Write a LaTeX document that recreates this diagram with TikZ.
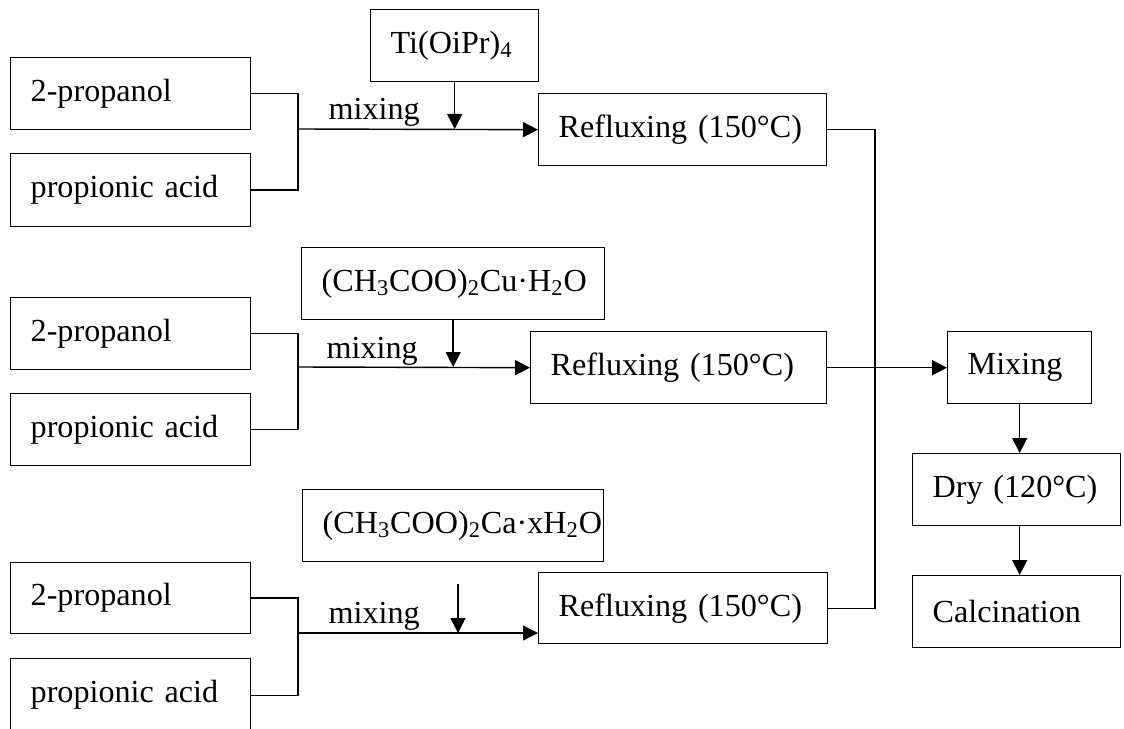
\documentclass[tikz,border=0pt]{standalone}
\usepackage{fontspec}
\setmainfont{Liberation Serif}
\usetikzlibrary{arrows.meta,positioning}

\begin{document}
\begin{tikzpicture}[x=0.02cm,y=-0.02cm,line width=0.8pt,
  font=\fontsize{18.3}{22}\selectfont,
  b/.style={draw,anchor=north west,minimum height=1.44cm,inner xsep=0.4cm,
            inner ysep=0pt,align=left},
  ar/.style={-{Triangle[length=0.3cm,width=0.3cm]}}]
\useasboundingbox (0,0) rectangle (1124,729);

\node[b,text width=4cm]    (pr1) at (10,57)   {2-propanol};
\node[b,text width=4cm,minimum height=1.46cm] (pa1) at (10,153) {propionic acid};
\node[b,text width=2.56cm] (ti)  at (370,9)   {Ti(OiPr)\textsubscript{4}};
\node[b,text width=4.96cm] (rf1) at (538,93)  {Refluxing (150°C)};

\node[b,text width=4cm]    (pr2) at (10,297)  {2-propanol};
\node[b,text width=4cm]    (pa2) at (10,393)  {propionic acid};
\node[b,text width=5.26cm] (cu)  at (301,247) {(CH\textsubscript{3}COO)\textsubscript{2}Cu·H\textsubscript{2}O};
\node[b,text width=5.12cm] (rf2) at (530,331) {Refluxing (150°C)};

\node[b,text width=4cm,minimum height=1.42cm] (pr3) at (10,562) {2-propanol};
\node[b,text width=4cm,minimum height=1.46cm] (pa3) at (10,658) {propionic acid};
\node[b,text width=5.22cm] (ca)  at (302,489) {(CH\textsubscript{3}COO)\textsubscript{2}Ca·xH\textsubscript{2}O};
\node[b,text width=4.98cm,minimum height=1.42cm] (rf3) at (538,572) {Refluxing (150°C)};

\node[b,text width=2.08cm] (mx)  at (947,331) {Mixing};
\node[b,text width=3.36cm] (dry) at (912,453) {Dry (120°C)};
\node[b,text width=3.36cm] (cal) at (912,575) {Calcination};

\coordinate (j1) at (298,129);
\coordinate (j2) at (298,367);
\coordinate (j3) at (298,633);
\coordinate (d3) at (458,584);
\coordinate (k)  at (875,367);

\node[anchor=base west] (m1) at (322,120) {mixing};
\node[anchor=base west] (m2) at (320,358) {mixing};
\node[anchor=base west] (m3) at (322,623) {mixing};

% joins of the two liquids
\draw (pr1.east) -| (j1) |- (pa1.east);
\draw (pr2.east) -| (j2) |- (pa2.east);
\draw (pr3.east) -| (j3) |- (pa3.east);

\draw[ar] (j1) -- (rf1.west);
\draw[ar] (j2) -- (rf2.west);
\draw[ar] (j3) -- (j3 -| rf3.west);

\draw[ar] (ti.south) -- (ti.south |- j1);
\draw[ar] (cu.south) -- (cu.south |- j2);
\draw[ar] (d3) -- (d3 |- j3);

% collecting the three sols
\draw (rf1.east) -| (k) |- (rf3.east);
\draw[ar] (rf2.east) -- (mx.west);
\draw[ar] (mx.south) -- (mx.south |- dry.north);
\draw[ar] (mx.south |- dry.south) -- (mx.south |- cal.north);
\end{tikzpicture}
\end{document}
